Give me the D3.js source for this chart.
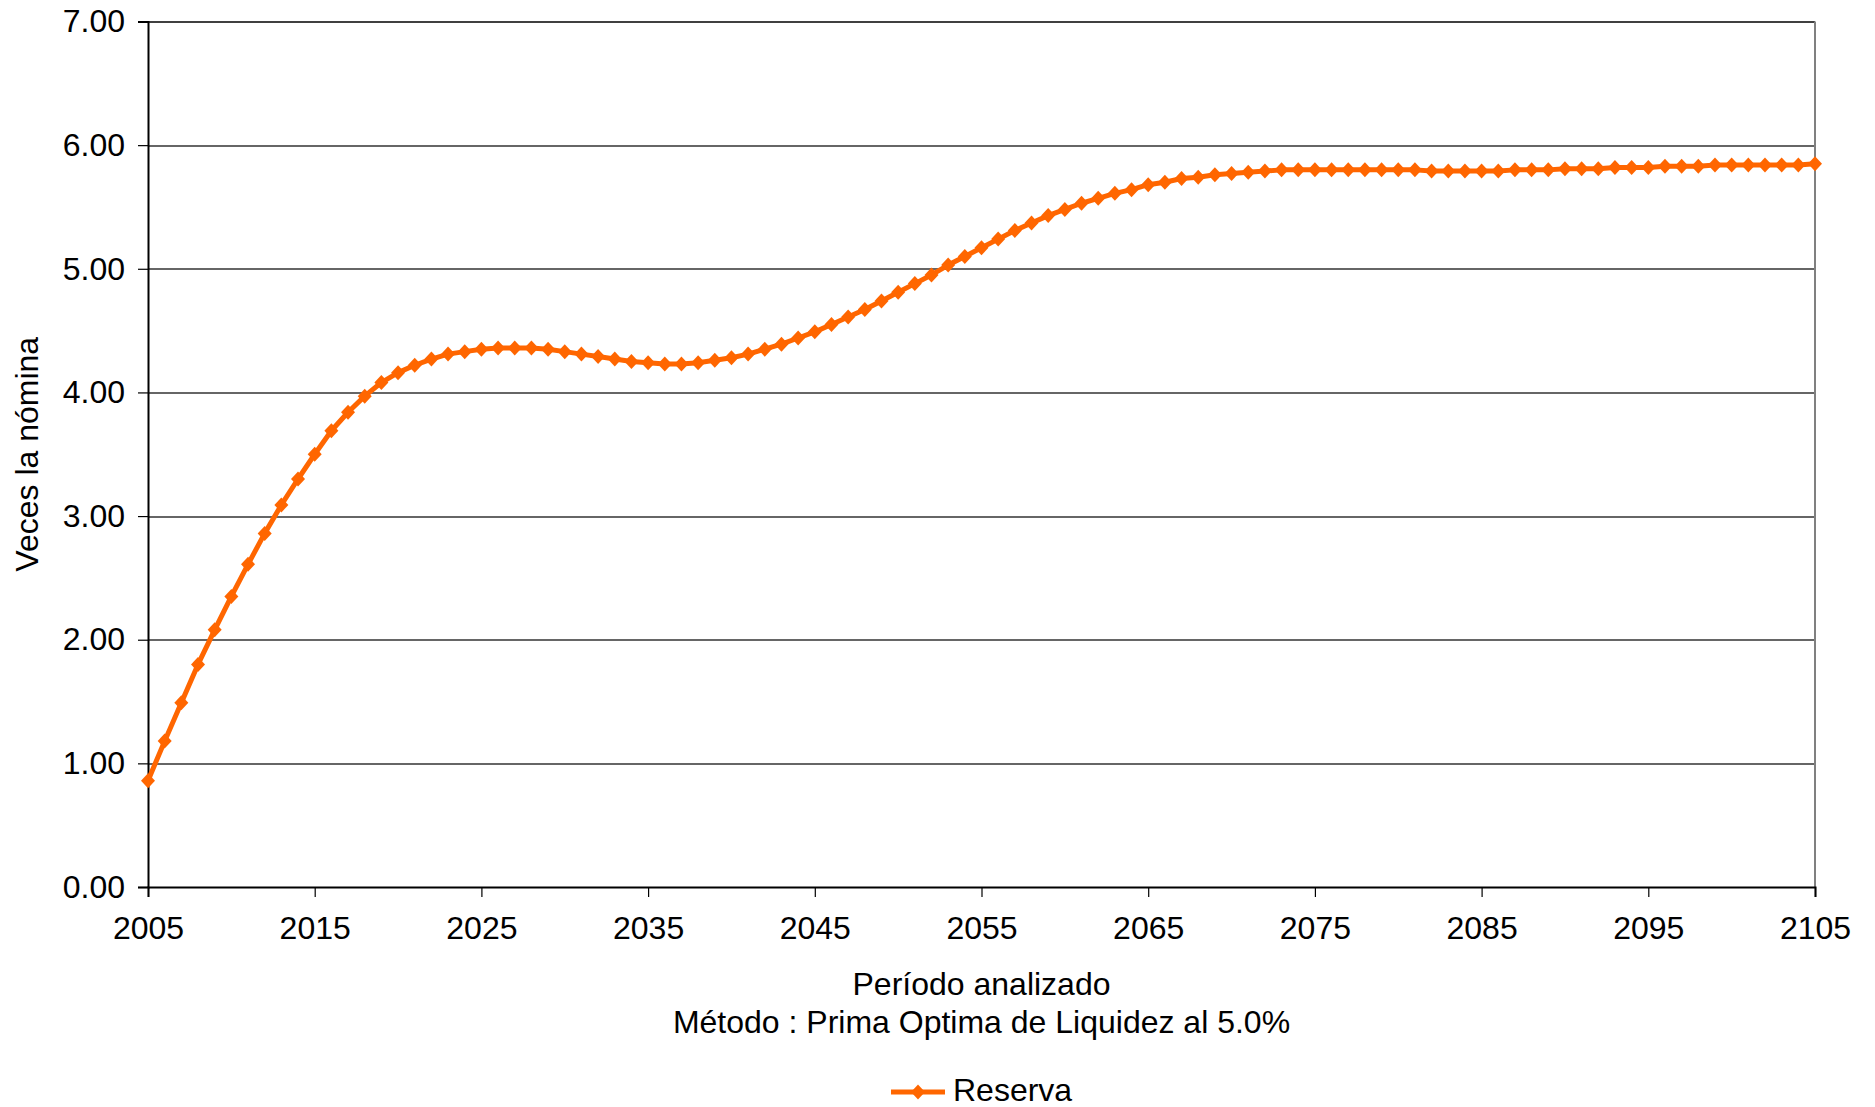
<!DOCTYPE html>
<html>
<head>
<meta charset="utf-8">
<script src="https://cdn.jsdelivr.net/npm/d3@7"></script>
<style>
  body { margin:0; background:#fff; }
  text { font-family: "Liberation Sans", Arial, sans-serif; fill:#000; }
</style>
</head>
<body>
<div id="chart"></div>
<script>
// ---- data ----
const firstYear = 2005, lastYear = 2105;
const years = d3.range(firstYear, lastYear + 1);
const reserva = [
  0.86, 1.18, 1.49, 1.80, 2.08, 2.35, 2.61, 2.86, 3.09, 3.30,   // 2005-2014
  3.50, 3.69, 3.84, 3.97, 4.08, 4.16, 4.22, 4.27, 4.31, 4.33,   // 2015-2024
  4.35, 4.36, 4.36, 4.36, 4.35, 4.33, 4.31, 4.29, 4.27, 4.25,   // 2025-2034
  4.24, 4.23, 4.23, 4.24, 4.26, 4.28, 4.31, 4.35, 4.39, 4.44,   // 2035-2044
  4.49, 4.55, 4.61, 4.67, 4.74, 4.81, 4.88, 4.95, 5.03, 5.10,   // 2045-2054
  5.17, 5.24, 5.31, 5.37, 5.43, 5.48, 5.53, 5.57, 5.61, 5.64,   // 2055-2064
  5.68, 5.70, 5.73, 5.74, 5.76, 5.77, 5.78, 5.79, 5.80, 5.80,   // 2065-2074
  5.80, 5.80, 5.80, 5.80, 5.80, 5.80, 5.80, 5.79, 5.79, 5.79,   // 2075-2084
  5.79, 5.79, 5.80, 5.80, 5.80, 5.81, 5.81, 5.81, 5.82, 5.82,   // 2085-2094
  5.82, 5.83, 5.83, 5.83, 5.84, 5.84, 5.84, 5.84, 5.84, 5.84,   // 2095-2104
  5.85                                                          // 2105
];
const xTicks = [2005, 2015, 2025, 2035, 2045, 2055, 2065, 2075, 2085, 2095, 2105];
const yTicks = [0, 1, 2, 3, 4, 5, 6, 7];
const yTitle = "Veces la nómina";
const xTitle = "Período analizado";
const subTitle = "Método : Prima Optima de Liquidez al 5.0%";
const seriesName = "Reserva";

const data = years.map(function(y, i){ return { year: y, value: reserva[i] }; });

// ---- layout ----
const W = 1875, H = 1107;
const margin = { left:148, right:60, top:21.5, bottom:220 };
const width = W - margin.left - margin.right;
const height = H - margin.top - margin.bottom;
const orange = "#ff6600";
const fs = "32px";

const svg = d3.select("#chart").append("svg")
    .attr("width", W)
    .attr("height", H);

const g = svg.append("g")
    .attr("transform", "translate(" + margin.left + "," + margin.top + ")");

// Scales
const x = d3.scaleLinear().domain([firstYear, lastYear]).range([0, width]);
const y = d3.scaleLinear().domain([0, 7]).range([height, 0]);

// Gridlines
g.append("g").selectAll("line")
    .data(yTicks.slice(1))
    .enter().append("line")
    .attr("x1", 0).attr("x2", width)
    .attr("y1", function(d){ return Math.round(y(d)) + 0.5; })
    .attr("y2", function(d){ return Math.round(y(d)) + 0.5; })
    .attr("stroke", function(d){ return d === 7 ? "#000" : "#333"; })
    .attr("stroke-width", 1.3);

// right border
g.append("line")
    .attr("x1", width).attr("x2", width)
    .attr("y1", 0).attr("y2", height)
    .attr("stroke", "#808080").attr("stroke-width", 2);

// Axes
const yAxis = g.append("g")
    .call(d3.axisLeft(y).tickValues(yTicks).tickFormat(d3.format(".2f")).tickSize(10).tickPadding(13));
const xAxis = g.append("g")
    .attr("transform", "translate(0," + height + ")")
    .call(d3.axisBottom(x).tickValues(xTicks).tickFormat(d3.format("d")).tickSize(10).tickPadding(19));

[yAxis, xAxis].forEach(function(ax){
  ax.select(".domain").attr("stroke", "#000").attr("stroke-width", 2);
  ax.selectAll(".tick line").attr("stroke", "#000").attr("stroke-width", 1.2);
  ax.selectAll("text").attr("font-size", fs).attr("fill", "#000")
    .attr("font-family", "Liberation Sans, Arial, sans-serif");
});

// Line
const line = d3.line()
    .x(function(d){ return x(d.year); })
    .y(function(d){ return y(d.value); });

g.append("path")
    .datum(data)
    .attr("fill", "none")
    .attr("stroke", orange)
    .attr("stroke-width", 5)
    .attr("stroke-linejoin", "round")
    .attr("d", line);

const diamond = "M0,-7.5L7,0L0,7.5L-7,0Z";
g.append("g").selectAll("path")
    .data(data)
    .enter().append("path")
    .attr("d", diamond)
    .attr("fill", orange)
    .attr("transform", function(d){ return "translate(" + x(d.year) + "," + y(d.value) + ")"; });

// Titles
svg.append("text")
    .attr("transform", "translate(38," + (margin.top + height / 2) + ") rotate(-90)")
    .attr("text-anchor", "middle")
    .attr("font-size", fs)
    .text(yTitle);

svg.append("text")
    .attr("x", margin.left + width / 2)
    .attr("y", 995)
    .attr("text-anchor", "middle")
    .attr("font-size", fs)
    .text(xTitle);

svg.append("text")
    .attr("x", margin.left + width / 2)
    .attr("y", 1033)
    .attr("text-anchor", "middle")
    .attr("font-size", fs)
    .text(subTitle);

// Legend
const lg = svg.append("g").attr("transform", "translate(891,1092)");
lg.append("line")
    .attr("x1", 0).attr("x2", 54)
    .attr("stroke", orange).attr("stroke-width", 5);
lg.append("path").attr("d", diamond).attr("fill", orange)
    .attr("transform", "translate(27,0)");
lg.append("text")
    .attr("x", 62).attr("y", 9)
    .attr("font-size", fs)
    .text(seriesName);
</script>
</body>
</html>
